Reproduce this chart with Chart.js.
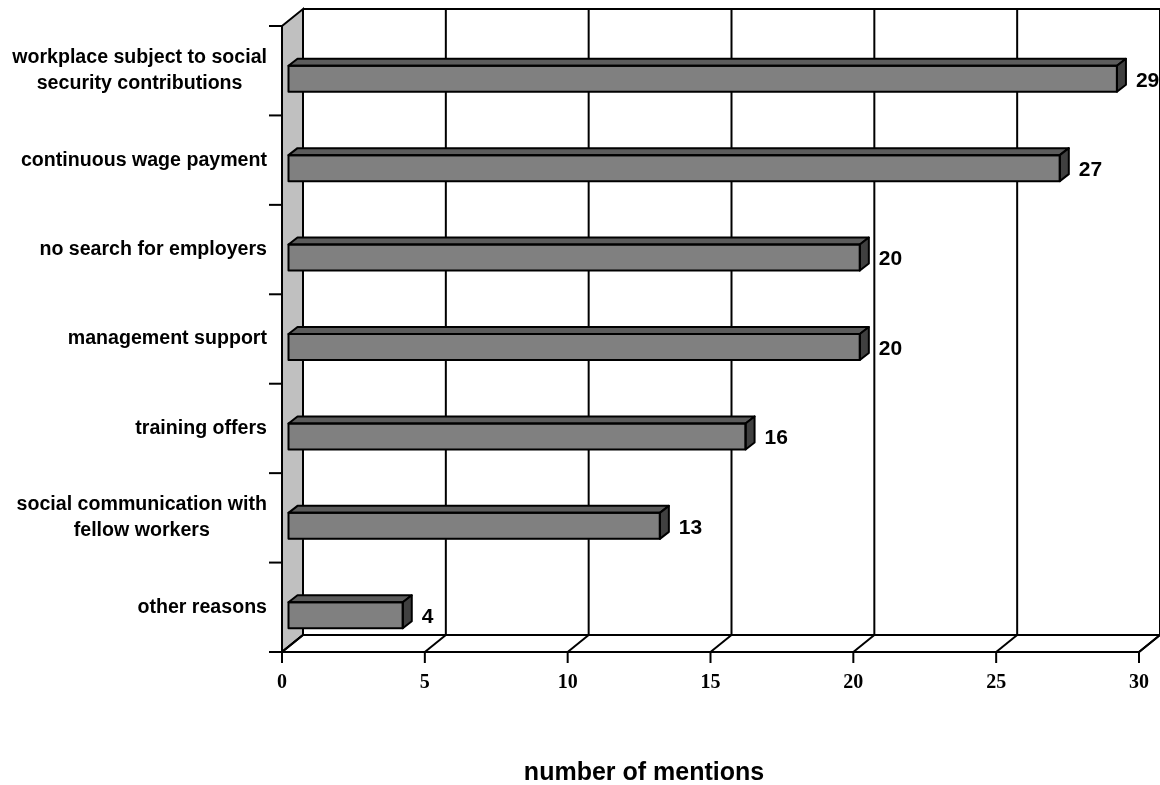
<!DOCTYPE html>
<html>
<head>
<meta charset="utf-8">
<script src="https://cdn.jsdelivr.net/npm/chart.js@4/dist/chart.umd.min.js"></script>
<style>
html,body{margin:0;padding:0;background:#fff;}
#wrap{width:1160px;height:785px;}
</style>
</head>
<body>
<div id="wrap"><canvas id="c" width="1160" height="785"></canvas></div>
<script>
const categories = [
  ["workplace subject to social", "security contributions"],
  "continuous wage payment",
  "no search for employers",
  "management support",
  "training offers",
  ["social communication with", "fellow workers"],
  "other reasons"
];
const mentions = [29, 27, 20, 20, 16, 13, 4];
const xTicks = [0, 5, 10, 15, 20, 25, 30];
const axisTitle = "number of mentions";

const WALL = {dx: 21, dy: 17};
const BAR3D = {dx: 9, dy: 7};
const BAR_SHIFT = {dx: 6.5, dy: 8};

function poly(ctx, pts, fill) {
  ctx.beginPath();
  ctx.moveTo(pts[0][0], pts[0][1]);
  for (let i = 1; i < pts.length; i++) ctx.lineTo(pts[i][0], pts[i][1]);
  ctx.closePath();
  if (fill) { ctx.fillStyle = fill; ctx.fill(); }
  ctx.stroke();
}
function line(ctx, x1, y1, x2, y2) {
  ctx.beginPath(); ctx.moveTo(x1, y1); ctx.lineTo(x2, y2); ctx.stroke();
}

const threeD = {
  id: 'threeD',
  beforeDatasetsDraw(chart) {
    const {ctx, chartArea: a, scales: {x, y}} = chart;
    const dx = WALL.dx, dy = WALL.dy;
    const x0 = x.getPixelForValue(xTicks[0]);
    const xN = x.getPixelForValue(xTicks[xTicks.length - 1]);
    ctx.save();
    ctx.strokeStyle = '#000';
    ctx.lineWidth = 2;
    ctx.lineJoin = 'miter';
    xTicks.forEach(v => {
      const px = x.getPixelForValue(v) + dx;
      line(ctx, px, a.top - dy, px, a.bottom - dy);
    });
    line(ctx, x0 + dx, a.top - dy, xN + dx, a.top - dy);
    poly(ctx, [[x0, a.top], [x0 + dx, a.top - dy], [x0 + dx, a.bottom - dy], [x0, a.bottom]], '#c0c0c0');
    poly(ctx, [[x0, a.bottom], [xN, a.bottom], [xN + dx, a.bottom - dy], [x0 + dx, a.bottom - dy]], '#ffffff');
    xTicks.forEach(v => {
      const px = x.getPixelForValue(v);
      line(ctx, px, a.bottom, px + dx, a.bottom - dy);
      line(ctx, px, a.bottom, px, a.bottom + 11);
    });
    const band = y.getPixelForValue(1) - y.getPixelForValue(0);
    for (let i = 0; i <= categories.length; i++) {
      const py = y.getPixelForValue(0) - band / 2 + i * band;
      line(ctx, x0 - 13, py, x0, py);
    }
    ctx.restore();
    ctx.save();
    ctx.translate(BAR_SHIFT.dx, BAR_SHIFT.dy);
  },
  afterDatasetsDraw(chart) {
    const {ctx} = chart;
    const meta = chart.getDatasetMeta(0);
    ctx.strokeStyle = '#000';
    ctx.lineWidth = 2;
    ctx.lineJoin = 'round';
    meta.data.forEach(el => {
      const p = el.getProps(['x', 'y', 'base', 'height'], true);
      const t = p.y - p.height / 2, b = p.y + p.height / 2;
      const bx = BAR3D.dx, by = BAR3D.dy;
      poly(ctx, [[p.base, t], [p.base + bx, t - by], [p.x + bx, t - by], [p.x, t]], '#5c5c5c');
      poly(ctx, [[p.x, t], [p.x + bx, t - by], [p.x + bx, b - by], [p.x, b]], '#404040');
      ctx.strokeRect(p.base, t, p.x - p.base, p.height);
    });
    ctx.restore();
  },
  afterDraw(chart) {
    const {ctx, chartArea: a, scales: {x, y}} = chart;
    ctx.save();
    ctx.fillStyle = '#000';
    ctx.font = 'bold 19.6px "Liberation Sans", Arial, sans-serif';
    ctx.textBaseline = 'middle';
    ctx.textAlign = 'center';
    const rightEdge = x.getPixelForValue(0) - 15;
    categories.forEach((lab, i) => {
      const lines = Array.isArray(lab) ? lab : [lab];
      const w = Math.max(...lines.map(s => ctx.measureText(s).width));
      const cx = rightEdge - w / 2;
      const cy = y.getPixelForValue(i);
      const lh = 26;
      lines.forEach((s, k) => {
        ctx.fillText(s, cx, cy + (k - (lines.length - 1) / 2) * lh);
      });
    });
    ctx.font = 'bold 21px "Liberation Sans", Arial, sans-serif';
    ctx.textAlign = 'left';
    const meta = chart.getDatasetMeta(0);
    meta.data.forEach((el, i) => {
      const p = el.getProps(['x', 'y'], true);
      ctx.fillText(String(mentions[i]), p.x + BAR_SHIFT.dx + BAR3D.dx + 10, p.y + BAR_SHIFT.dy + 2);
    });
    ctx.font = 'bold 20px "Liberation Serif", "Times New Roman", serif';
    ctx.textAlign = 'center';
    ctx.textBaseline = 'alphabetic';
    xTicks.forEach(v => {
      ctx.fillText(String(v), x.getPixelForValue(v), a.bottom + 36);
    });
    ctx.font = 'bold 25px "Liberation Sans", Arial, sans-serif';
    ctx.fillText(axisTitle, 644, 780);
    ctx.restore();
  }
};

new Chart(document.getElementById('c'), {
  type: 'bar',
  data: {
    labels: categories,
    datasets: [{
      data: mentions,
      backgroundColor: '#808080',
      borderColor: '#000',
      borderWidth: 0,
      borderSkipped: false,
      barThickness: 26,
      clip: false
    }]
  },
  options: {
    indexAxis: 'y',
    responsive: false,
    animation: false,
    devicePixelRatio: 1,
    layout: {padding: {left: 282, right: 21, top: 26, bottom: 133}},
    plugins: {legend: {display: false}, tooltip: {enabled: false}},
    scales: {
      x: {type: 'linear', min: 0, max: 30, display: false},
      y: {type: 'category', display: false}
    }
  },
  plugins: [threeD]
});
</script>
</body>
</html>
